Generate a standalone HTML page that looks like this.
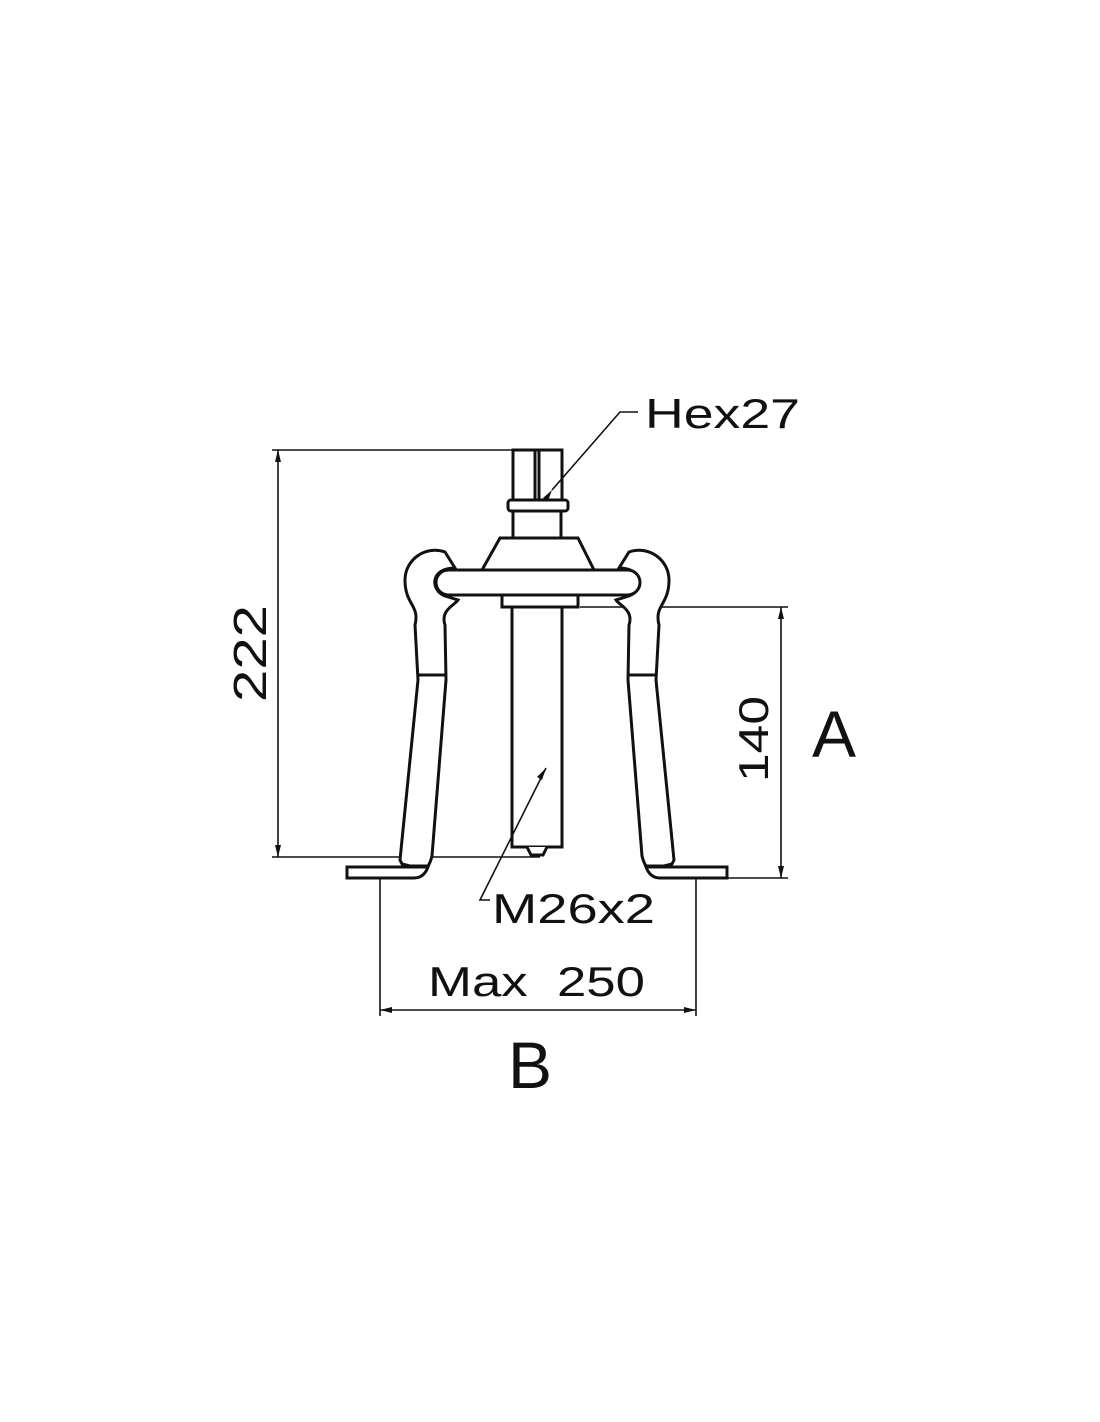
<!DOCTYPE html>
<html><head><style>
html,body{margin:0;padding:0;background:#fff;}
svg{display:block;}
text{font-family:"Liberation Sans",sans-serif;fill:#111;}
</style></head><body>
<svg width="1100" height="1422" viewBox="0 0 1100 1422" xmlns="http://www.w3.org/2000/svg">
<g fill="none" stroke="#111" stroke-width="1.6">
<line x1="272" y1="450" x2="515" y2="450"/>
<line x1="272" y1="857" x2="540" y2="857"/>
<line x1="278" y1="450" x2="278" y2="857"/>
<line x1="580" y1="607" x2="788" y2="607"/>
<line x1="727" y1="878" x2="788" y2="878"/>
<line x1="781" y1="607" x2="781" y2="878"/>
<line x1="380" y1="872" x2="380" y2="1016"/>
<line x1="696" y1="872" x2="696" y2="1016"/>
<line x1="380" y1="1010" x2="696" y2="1010"/>
</g>
<g fill="#111">
<polygon points="278,450 275,462 281,462"/><polygon points="278,857 275,845 281,845"/>
<polygon points="781,607 778,619 784,619"/><polygon points="781,878 778,866 784,866"/>
<polygon points="380,1010 392,1007 392,1013"/><polygon points="696,1010 684,1007 684,1013"/>
</g>
<g fill="#fff" stroke="#111" stroke-width="3">
<rect x="513" y="450" width="49" height="50"/>
<line x1="535" y1="450" x2="535" y2="500"/><line x1="539" y1="450" x2="539" y2="500"/>
<rect x="508" y="500" width="60" height="11" rx="3"/>
<rect x="513" y="511" width="48" height="27"/>
<polygon points="500,538 578,538 594,570 482,570"/>
<path d="M445,552 C425,545 405,560 405,580 C405,605 420,605 415,625 L418,680 L400,860 L402,864 L410,866 L428,866 C430,863 431,860 432,856 L446,680 L445,625 C440,610 455,605 458,600 L445,596 C430,590 430,568 455,568 Z"/>
<path d="M629,552 C649,545 669,560 669,580 C669,605 654,605 659,625 L656,680 L674,860 L672,864 L664,866 L646,866 C644,863 643,860 642,856 L628,680 L629,625 C634,610 619,605 616,600 L629,596 C644,590 644,568 619,568 Z"/>
<line x1="417" y1="675" x2="446" y2="675"/><line x1="628" y1="675" x2="657" y2="675"/>
<path d="M347,867 L428,867 C425,875 420,878 414,878 L347,878 Z"/>
<path d="M727,867 L646,867 C649,875 654,878 660,878 L727,878 Z"/>
<rect x="436" y="570" width="204" height="25" rx="12.5"/>
<rect x="502" y="595" width="76" height="12"/>
<rect x="512" y="607" width="50" height="240"/>
<path d="M527,847 L531,855 L543,855 L547,847"/>
</g>
<g fill="none" stroke="#111" stroke-width="1.6">
<polyline points="638,412 620,412 552,490"/>
<polyline points="490,900 480,900 546,768"/>
</g>
<g fill="#111">
<polygon points="552,490 543,498 548,501"/>
<polygon points="546,768 537,777 542,780"/>
</g>
<text x="645" y="428" font-size="42" textLength="155" lengthAdjust="spacingAndGlyphs">Hex27</text>
<text x="492" y="923" font-size="42" textLength="163" lengthAdjust="spacingAndGlyphs">M26x2</text>
<text x="428" y="996" font-size="42" textLength="217" lengthAdjust="spacingAndGlyphs" xml:space="preserve">Max  250</text>
<text x="812" y="757" font-size="66">A</text>
<text x="508" y="1088" font-size="66">B</text>
<text transform="translate(266,702) rotate(-90)" font-size="46" textLength="97" lengthAdjust="spacingAndGlyphs">222</text>
<text transform="translate(768,782) rotate(-90)" font-size="42" textLength="86" lengthAdjust="spacingAndGlyphs">140</text>
</svg>
</body></html>
